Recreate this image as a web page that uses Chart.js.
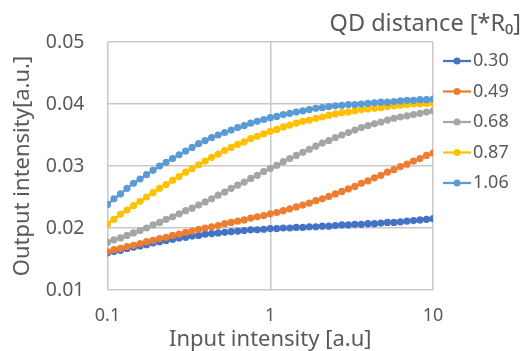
<!DOCTYPE html>
<html>
<head>
<meta charset="utf-8">
<script src="https://cdn.jsdelivr.net/npm/chart.js@4"></script>
<style>
  body { margin: 0; background: #fff; }
  #wrap { width: 525px; height: 351px; }
</style>
</head>
<body>
<div id="wrap"><canvas id="grafico" width="525" height="351"></canvas></div>
<script>
// input intensity (log steps, 25 per decade)
var inputIntensity = [0.1, 0.1096, 0.1202, 0.1318, 0.1445, 0.1585, 0.1738, 0.1905, 0.2089, 0.2291,
  0.2512, 0.2754, 0.3020, 0.3311, 0.3631, 0.3981, 0.4365, 0.4786, 0.5248, 0.5754,
  0.6310, 0.6918, 0.7586, 0.8318, 0.9120, 1, 1.096, 1.202, 1.318, 1.445,
  1.585, 1.738, 1.905, 2.089, 2.291, 2.512, 2.754, 3.020, 3.311, 3.631,
  3.981, 4.365, 4.786, 5.248, 5.754, 6.310, 6.918, 7.586, 8.318, 9.120, 10];

// output intensity per QD distance
var out030 = [0.0160, 0.0162, 0.0164, 0.0167, 0.0169, 0.0171, 0.0173, 0.0176, 0.0178, 0.0180,
  0.0182, 0.0184, 0.0185, 0.0187, 0.0188, 0.0190, 0.0191, 0.0192, 0.0193, 0.0194,
  0.0195, 0.0196, 0.0197, 0.0197, 0.0198, 0.0199, 0.0199, 0.0200, 0.0200, 0.0201,
  0.0201, 0.0202, 0.0202, 0.0203, 0.0203, 0.0204, 0.0205, 0.0205, 0.0206, 0.0206,
  0.0207, 0.0207, 0.0208, 0.0209, 0.0209, 0.0210, 0.0211, 0.0212, 0.0213, 0.0214, 0.0215];
var out049 = [0.0162, 0.0165, 0.0167, 0.0170, 0.0172, 0.0175, 0.0178, 0.0180, 0.0183, 0.0185,
  0.0188, 0.0190, 0.0193, 0.0195, 0.0198, 0.0200, 0.0202, 0.0204, 0.0207, 0.0209,
  0.0211, 0.0213, 0.0216, 0.0218, 0.0220, 0.0223, 0.0225, 0.0228, 0.0231, 0.0234,
  0.0237, 0.0240, 0.0244, 0.0247, 0.0251, 0.0255, 0.0259, 0.0263, 0.0267, 0.0272,
  0.0276, 0.0281, 0.0285, 0.0290, 0.0294, 0.0299, 0.0303, 0.0308, 0.0312, 0.0317, 0.0321];
var out068 = [0.0177, 0.0181, 0.0184, 0.0188, 0.0192, 0.0196, 0.0200, 0.0205, 0.0209, 0.0214,
  0.0218, 0.0223, 0.0228, 0.0232, 0.0237, 0.0242, 0.0247, 0.0253, 0.0258, 0.0264,
  0.0269, 0.0274, 0.0280, 0.0285, 0.0291, 0.0296, 0.0301, 0.0307, 0.0312, 0.0317,
  0.0322, 0.0327, 0.0332, 0.0337, 0.0341, 0.0346, 0.0350, 0.0354, 0.0358, 0.0362,
  0.0365, 0.0368, 0.0371, 0.0374, 0.0377, 0.0379, 0.0381, 0.0383, 0.0385, 0.0387, 0.0389];
var out087 = [0.0207, 0.0214, 0.0222, 0.0229, 0.0236, 0.0243, 0.0250, 0.0257, 0.0264, 0.0270,
  0.0277, 0.0283, 0.0290, 0.0296, 0.0302, 0.0308, 0.0314, 0.0319, 0.0325, 0.0330,
  0.0335, 0.0339, 0.0344, 0.0348, 0.0352, 0.0356, 0.0359, 0.0363, 0.0366, 0.0369,
  0.0372, 0.0374, 0.0377, 0.0379, 0.0382, 0.0384, 0.0386, 0.0387, 0.0389, 0.0391,
  0.0392, 0.0393, 0.0394, 0.0396, 0.0397, 0.0398, 0.0399, 0.0400, 0.0400, 0.0401, 0.0402];
var out106 = [0.0238, 0.0247, 0.0255, 0.0264, 0.0272, 0.0279, 0.0286, 0.0293, 0.0300, 0.0306,
  0.0312, 0.0318, 0.0324, 0.0330, 0.0336, 0.0341, 0.0346, 0.0350, 0.0354, 0.0358,
  0.0362, 0.0365, 0.0369, 0.0372, 0.0375, 0.0378, 0.0380, 0.0383, 0.0385, 0.0387,
  0.0389, 0.0391, 0.0393, 0.0394, 0.0396, 0.0397, 0.0398, 0.0399, 0.0399, 0.0400,
  0.0401, 0.0402, 0.0403, 0.0403, 0.0404, 0.0405, 0.0406, 0.0406, 0.0407, 0.0407, 0.0408];

var nombres = ["0.30", "0.49", "0.68", "0.87", "1.06"];
var colores = ["#4472C4", "#ED7D31", "#A5A5A5", "#FFC000", "#5B9BD5"];
var xTicks = [0.1, 1, 10];
var yTicks = [0.01, 0.02, 0.03, 0.04, 0.05];
var legendTitle = "QD distance [*R\u2080]";

var fuente = "'Noto Sans', 'DejaVu Sans', sans-serif";
var gris = "#595959";

var series = [out030, out049, out068, out087, out106];
var datasets = series.map(function (s, k) {
  return {
    label: nombres[k],
    data: inputIntensity.map(function (x, i) { return { x: x, y: s[i] }; }),
    borderColor: colores[k],
    backgroundColor: colores[k],
    pointBackgroundColor: colores[k],
    pointBorderColor: colores[k],
    pointRadius: 3.6,
    pointBorderWidth: 0,
    borderWidth: 2.25,
    tension: 0,
    order: series.length - k   // later series on top, like Excel
  };
});

// legend drawn by hand (right side + title)
var leyenda = {
  id: "leyenda",
  afterDraw: function (chart) {
    var ctx = chart.ctx;
    ctx.save();
    ctx.fillStyle = gris;
    ctx.font = "23.5px " + fuente;
    ctx.textAlign = "right";
    ctx.textBaseline = "middle";
    ctx.fillText(legendTitle, 521, 24);

    ctx.font = "18px " + fuente;
    ctx.textAlign = "left";
    for (var k = 0; k < nombres.length; k++) {
      var y = 61 + k * 30.5;
      ctx.strokeStyle = colores[k];
      ctx.lineWidth = 2.25;
      ctx.beginPath();
      ctx.moveTo(443, y);
      ctx.lineTo(471, y);
      ctx.stroke();
      ctx.fillStyle = colores[k];
      ctx.beginPath();
      ctx.arc(457, y, 3.5, 0, Math.PI * 2);
      ctx.fill();
      ctx.fillStyle = gris;
      ctx.fillText(nombres[k], 473, y);
    }
    ctx.restore();
  }
};

new Chart(document.getElementById("grafico"), {
  type: "line",
  data: { datasets: datasets },
  plugins: [leyenda],
  options: {
    responsive: false,
    animation: false,
    layout: { padding: { top: 42, right: 92, left: 0, bottom: 0 } },
    plugins: { legend: { display: false }, tooltip: { enabled: false } },
    scales: {
      x: {
        type: "logarithmic",
        min: 0.1,
        max: 10,
        afterBuildTicks: function (s) { s.ticks = xTicks.map(function (v) { return { value: v }; }); },
        afterFit: function (s) { s.height = 61; },
        grid: { color: "#C8C8C8", lineWidth: 1.5, drawTicks: false },
        border: { display: false },
        ticks: {
          color: gris,
          font: { family: fuente, size: 18 },
          padding: 15,
          maxRotation: 0,
          callback: function (v) { return String(v); }
        },
        title: {
          display: true,
          text: "Input intensity [a.u]",
          color: gris,
          font: { family: fuente, size: 22 },
          padding: { top: 0, bottom: -2 }
        }
      },
      y: {
        min: 0.01,
        max: 0.05,
        afterBuildTicks: function (s) { s.ticks = yTicks.map(function (v) { return { value: v }; }); },
        afterFit: function (s) { s.width = 107.5; },
        grid: { color: "#C8C8C8", lineWidth: 1.5, drawTicks: false },
        border: { display: false },
        ticks: {
          color: gris,
          font: { family: fuente, size: 19.5 },
          padding: 23,
          callback: function (v) { return v.toFixed(2); }
        },
        title: {
          display: true,
          text: "Output intensity[a.u.]",
          color: gris,
          font: { family: fuente, size: 22 },
          padding: { top: 10, bottom: 0 }
        }
      }
    }
  }
});
</script>
</body>
</html>
